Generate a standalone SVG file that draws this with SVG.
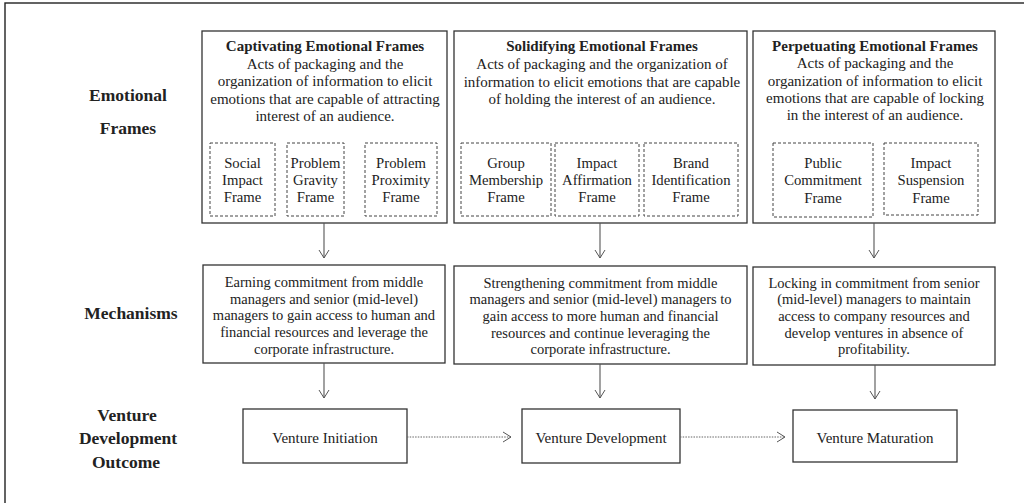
<svg xmlns="http://www.w3.org/2000/svg" width="1024" height="503" viewBox="0 0 1024 503">
<style>
text{font-family:"Liberation Serif","Times New Roman",serif;fill:#222;text-anchor:middle}
.lbl{font-weight:bold;font-size:17.5px}
.t{font-weight:bold;font-size:15px}
.b{font-size:15px}
.s{font-size:14.7px}
.m{font-size:14.5px}
.box{fill:#fff;stroke:#333;stroke-width:1.3}
.sub{fill:none;stroke:#444;stroke-width:1;stroke-dasharray:3,2}
.arr{stroke:#555;stroke-width:1.1;fill:none}
.dot{stroke:#666;stroke-width:1;fill:none;stroke-dasharray:1.5,1.2}
</style>
<defs>
<marker id="v" viewBox="0 0 10 12" refX="9" refY="6" markerWidth="10" markerHeight="12" markerUnits="userSpaceOnUse" orient="auto">
<path d="M1,1 L9,6 L1,11" fill="none" stroke="#555" stroke-width="1"/>
</marker>
</defs>
<rect width="1024" height="503" fill="#fff"/>
<rect x="5" y="3" width="1030" height="510" fill="none" stroke="#222" stroke-width="1.4"/>

<g id="row-labels">
<text class="lbl" x="128" y="101">Emotional</text>
<text class="lbl" x="128" y="134">Frames</text>
<text class="lbl" x="131" y="319">Mechanisms</text>
<text class="lbl" x="127" y="421">Venture</text>
<text class="lbl" x="128" y="444">Development</text>
<text class="lbl" x="126" y="468">Outcome</text>
</g>

<g id="frame-captivating">
<rect class="box" x="202" y="31" width="245" height="192"/>
<text class="t" x="325" y="51">Captivating Emotional Frames</text>
<text class="b" x="325" y="68.5">Acts of packaging and the</text>
<text class="b" x="325" y="86">organization of information to elicit</text>
<text class="b" x="325" y="103.5">emotions that are capable of attracting</text>
<text class="b" x="325" y="121">interest of an audience.</text>
<g id="sub-social"><rect class="sub" x="210" y="143" width="65" height="73"/>
<text class="s" x="242.5" y="168">Social</text><text class="s" x="242.5" y="185">Impact</text><text class="s" x="242.5" y="202">Frame</text></g>
<g id="sub-gravity"><rect class="sub" x="287" y="143" width="57" height="73"/>
<text class="s" x="315.5" y="168">Problem</text><text class="s" x="315.5" y="185">Gravity</text><text class="s" x="315.5" y="202">Frame</text></g>
<g id="sub-proximity"><rect class="sub" x="365" y="143" width="72" height="73"/>
<text class="s" x="401" y="168">Problem</text><text class="s" x="401" y="185">Proximity</text><text class="s" x="401" y="202">Frame</text></g>
</g>

<g id="frame-solidifying">
<rect class="box" x="454" y="31" width="293" height="192"/>
<text class="t" x="602" y="51">Solidifying Emotional Frames</text>
<text class="b" x="602" y="69">Acts of packaging and the organization of</text>
<text class="b" x="602" y="86.5">information to elicit emotions that are capable</text>
<text class="b" x="602" y="104">of holding the interest of an audience.</text>
<g id="sub-group"><rect class="sub" x="461" y="143" width="90" height="73"/>
<text class="s" x="506" y="168">Group</text><text class="s" x="506" y="185">Membership</text><text class="s" x="506" y="202">Frame</text></g>
<g id="sub-affirmation"><rect class="sub" x="555" y="143" width="84" height="73"/>
<text class="s" x="597" y="168">Impact</text><text class="s" x="597" y="185">Affirmation</text><text class="s" x="597" y="202">Frame</text></g>
<g id="sub-brand"><rect class="sub" x="644" y="143" width="94" height="73"/>
<text class="s" x="691" y="168">Brand</text><text class="s" x="691" y="185">Identification</text><text class="s" x="691" y="202">Frame</text></g>
</g>

<g id="frame-perpetuating">
<rect class="box" x="753" y="31" width="242" height="192"/>
<text class="t" x="875" y="51">Perpetuating Emotional Frames</text>
<text class="b" x="875" y="68">Acts of packaging and the</text>
<text class="b" x="875" y="85.5">organization of information to elicit</text>
<text class="b" x="875" y="102.5">emotions that are capable of locking</text>
<text class="b" x="875" y="120">in the interest of an audience.</text>
<g id="sub-public"><rect class="sub" x="773" y="143" width="100" height="74"/>
<text class="s" x="823" y="168">Public</text><text class="s" x="823" y="185">Commitment</text><text class="s" x="823" y="203">Frame</text></g>
<g id="sub-suspension"><rect class="sub" x="884" y="143" width="94" height="72"/>
<text class="s" x="931" y="168">Impact</text><text class="s" x="931" y="185">Suspension</text><text class="s" x="931" y="203">Frame</text></g>
</g>

<g id="mech-earning">
<rect class="box" x="203" y="265" width="242" height="98"/>
<text class="m" x="324" y="287">Earning commitment from middle</text>
<text class="m" x="324" y="303.5">managers and senior (mid-level)</text>
<text class="m" x="324" y="320">managers to gain access to human and</text>
<text class="m" x="324" y="337">financial resources and leverage the</text>
<text class="m" x="324" y="353.5">corporate infrastructure.</text>
</g>
<g id="mech-strengthening">
<rect class="box" x="454" y="266" width="293" height="98"/>
<text class="m" x="600.5" y="287.5">Strengthening commitment from middle</text>
<text class="m" x="600.5" y="304">managers and senior (mid-level) managers to</text>
<text class="m" x="600.5" y="320.5">gain access to more human and financial</text>
<text class="m" x="600.5" y="337.5">resources and continue leveraging the</text>
<text class="m" x="600.5" y="354">corporate infrastructure.</text>
</g>
<g id="mech-locking">
<rect class="box" x="753" y="267" width="242" height="98"/>
<text class="m" x="874" y="287.5">Locking in commitment from senior</text>
<text class="m" x="874" y="304">(mid-level) managers to maintain</text>
<text class="m" x="874" y="320.5">access to company resources and</text>
<text class="m" x="874" y="337.5">develop ventures in absence of</text>
<text class="m" x="874" y="354">profitability.</text>
</g>

<g id="out-initiation">
<rect class="box" x="243" y="409" width="164" height="54"/>
<text class="b" x="325" y="443">Venture Initiation</text>
</g>
<g id="out-development">
<rect class="box" x="522" y="409" width="158" height="54"/>
<text class="b" x="601" y="443">Venture Development</text>
</g>
<g id="out-maturation">
<rect class="box" x="793" y="410" width="164" height="52"/>
<text class="b" x="875" y="443">Venture Maturation</text>
</g>

<g id="connectors">
<line class="arr" x1="324" y1="223" x2="324" y2="258" marker-end="url(#v)"/>
<line class="arr" x1="600" y1="223" x2="600" y2="258" marker-end="url(#v)"/>
<line class="arr" x1="874" y1="223" x2="874" y2="258" marker-end="url(#v)"/>
<line class="arr" x1="324" y1="363" x2="324" y2="398" marker-end="url(#v)"/>
<line class="arr" x1="600" y1="364" x2="600" y2="398" marker-end="url(#v)"/>
<line class="arr" x1="875" y1="365" x2="875" y2="399" marker-end="url(#v)"/>
<line class="dot" x1="407" y1="437" x2="511" y2="437" marker-end="url(#v)"/>
<line class="dot" x1="680" y1="437" x2="785" y2="437" marker-end="url(#v)"/>
</g>
</svg>
